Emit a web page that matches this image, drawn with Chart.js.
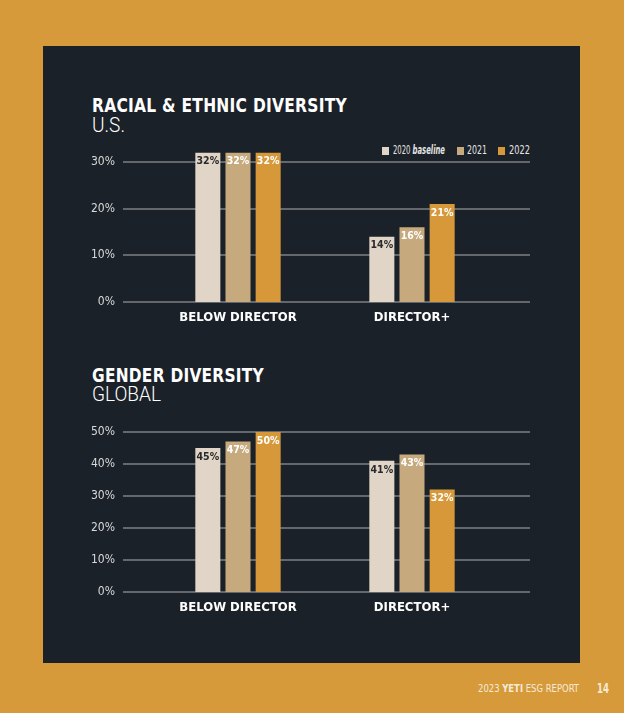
<!DOCTYPE html>
<html>
<head>
<meta charset="utf-8">
<script src="https://cdn.jsdelivr.net/npm/chart.js@4/dist/chart.umd.min.js"></script>
<style>
html, body { margin: 0; padding: 0; }
body { width: 624px; height: 713px; background: #d69a3b; position: relative; overflow: hidden;
  font-family: "DejaVu Sans Condensed", "DejaVu Sans", sans-serif; }
#panel { position: absolute; left: 43px; top: 46px; width: 537px; height: 617px; background: #1b2128; }
.t { position: absolute; white-space: nowrap; transform-origin: 0 0; color: #fff; line-height: 1; }
.title { font-weight: bold; font-size: 20px; letter-spacing: 0.3px; }
.sub { font-family: Roboto, sans-serif; font-weight: 300; font-size: 20px; }
canvas { position: absolute; }
.lg { position: absolute; top: 145px; font-size: 11.5px; color: #e4e4e4; line-height: 1; white-space: nowrap; }
.lg i { font-weight: bold; }
.sw { position: absolute; width: 7px; height: 8px; top: 147px; }
.foot { color: #f6ead6; font-size: 11px; }
</style>
</head>
<body>
<div id="panel"></div>

<div class="t title" id="t1" data-w="255" style="left:92px;top:95px">RACIAL &amp; ETHNIC DIVERSITY</div>
<div class="t sub" id="s1" data-w="33" style="left:92px;top:115px">U.S.</div>
<div class="t title" id="t2" data-w="172" style="left:92px;top:365px">GENDER DIVERSITY</div>
<div class="t sub" id="s2" data-w="69" style="left:92px;top:384px">GLOBAL</div>

<div class="sw" style="left:382px;background:#e1d5c8"></div>
<div class="lg t" data-w="52" style="left:393px">2020 <i>baseline</i></div>
<div class="sw" style="left:457px;background:#c6aa7e"></div>
<div class="lg t" data-w="20" style="left:467px">2021</div>
<div class="sw" style="left:498px;background:#d7983a"></div>
<div class="lg t" data-w="21" style="left:509px">2022</div>

<canvas id="racial" width="537" height="190" style="left:43px;top:140px"></canvas>
<canvas id="gender" width="537" height="210" style="left:43px;top:410px"></canvas>

<div class="t foot" data-w="101" style="left:478px;top:683px">2023 <b>YETI</b> ESG REPORT</div>
<div class="t foot" data-w="12" style="left:597px;top:681px;font-size:14px;font-weight:bold">14</div>

<script>
var categories = ['BELOW DIRECTOR', 'DIRECTOR+'];
var years = ['2020 baseline', '2021', '2022'];
var yearColors = ['#e1d5c8', '#c6aa7e', '#d7983a'];
var labelColors = ['#2a2a2a', '#ffffff', '#ffffff'];

var racial2020 = [32, 14];
var racial2021 = [32, 16];
var racial2022 = [32, 21];
var racialTicks = [0, 10, 20, 30];

var gender2020 = [45, 41];
var gender2021 = [47, 43];
var gender2022 = [50, 32];
var genderTicks = [0, 10, 20, 30, 40, 50];

/* ── squeeze html text to the width it has in the print layout ── */
document.querySelectorAll('[data-w]').forEach(function(el) {
  var w = el.getBoundingClientRect().width;
  el.style.transform = 'scaleX(' + (parseFloat(el.dataset.w) / w) + ')';
});

/* ── gridlines reach past the bars on both sides ── */
var wideGrid = {
  id: 'wideGrid',
  beforeDatasetsDraw: function(chart) {
    var ctx = chart.ctx, y = chart.scales.y, a = chart.chartArea;
    ctx.save();
    ctx.strokeStyle = '#64686d';
    ctx.lineWidth = 2;
    y.ticks.forEach(function(t) {
      var py = Math.round(y.getPixelForValue(t.value));
      ctx.beginPath();
      ctx.moveTo(a.left - 28, py);
      ctx.lineTo(a.right + 31, py);
      ctx.stroke();
    });
    ctx.restore();
  }
};

/* ── value labels just inside the top of each bar ── */
var barLabels = {
  id: 'barLabels',
  afterDatasetsDraw: function(chart) {
    var ctx = chart.ctx;
    ctx.save();
    ctx.font = 'bold 10.5px "DejaVu Sans Condensed", "DejaVu Sans", sans-serif';
    ctx.textAlign = 'center';
    ctx.textBaseline = 'middle';
    chart.data.datasets.forEach(function(ds, i) {
      ctx.fillStyle = labelColors[i];
      chart.getDatasetMeta(i).data.forEach(function(bar, j) {
        ctx.fillText(ds.data[j] + '%', bar.x, bar.y + 9);
      });
    });
    ctx.restore();
  }
};

function makeChart(id, series, ticks) {
  return new Chart(document.getElementById(id), {
    type: 'bar',
    data: {
      labels: categories,
      datasets: series.map(function(s, i) {
        return {
          label: years[i],
          data: s,
          backgroundColor: yearColors[i],
          borderWidth: 0,
          clip: false,
          categoryPercentage: 0.52,
          barPercentage: 0.83
        };
      })
    },
    options: {
      responsive: false,
      animation: false,
      layout: { padding: { top: 22, right: 81, left: 0, bottom: 0 } },
      plugins: { legend: { display: false }, tooltip: { enabled: false } },
      scales: {
        x: {
          grid: { display: false, drawTicks: false },
          border: { display: false },
          afterFit: function(s) { s.height = 28; },
          ticks: {
            color: '#ffffff',
            padding: 8,
            font: { family: '"DejaVu Sans Condensed", "DejaVu Sans", sans-serif', size: 13, weight: 'bold' }
          }
        },
        y: {
          min: 0,
          max: ticks[ticks.length - 1],
          grid: { display: false, drawTicks: false },
          border: { display: false },
          afterFit: function(s) { s.width = 108; s.paddingTop = 7; s.paddingBottom = 7; },
          afterBuildTicks: function(s) { s.ticks = ticks.map(function(v) { return { value: v }; }); },
          ticks: {
            color: '#d9d9d9',
            padding: 36,
            font: { family: '"DejaVu Sans Condensed", "DejaVu Sans", sans-serif', size: 12 },
            callback: function(v) { return v + '%'; }
          }
        }
      }
    },
    plugins: [wideGrid, barLabels]
  });
}

makeChart('racial', [racial2020, racial2021, racial2022], racialTicks);
makeChart('gender', [gender2020, gender2021, gender2022], genderTicks);
</script>
</body>
</html>
